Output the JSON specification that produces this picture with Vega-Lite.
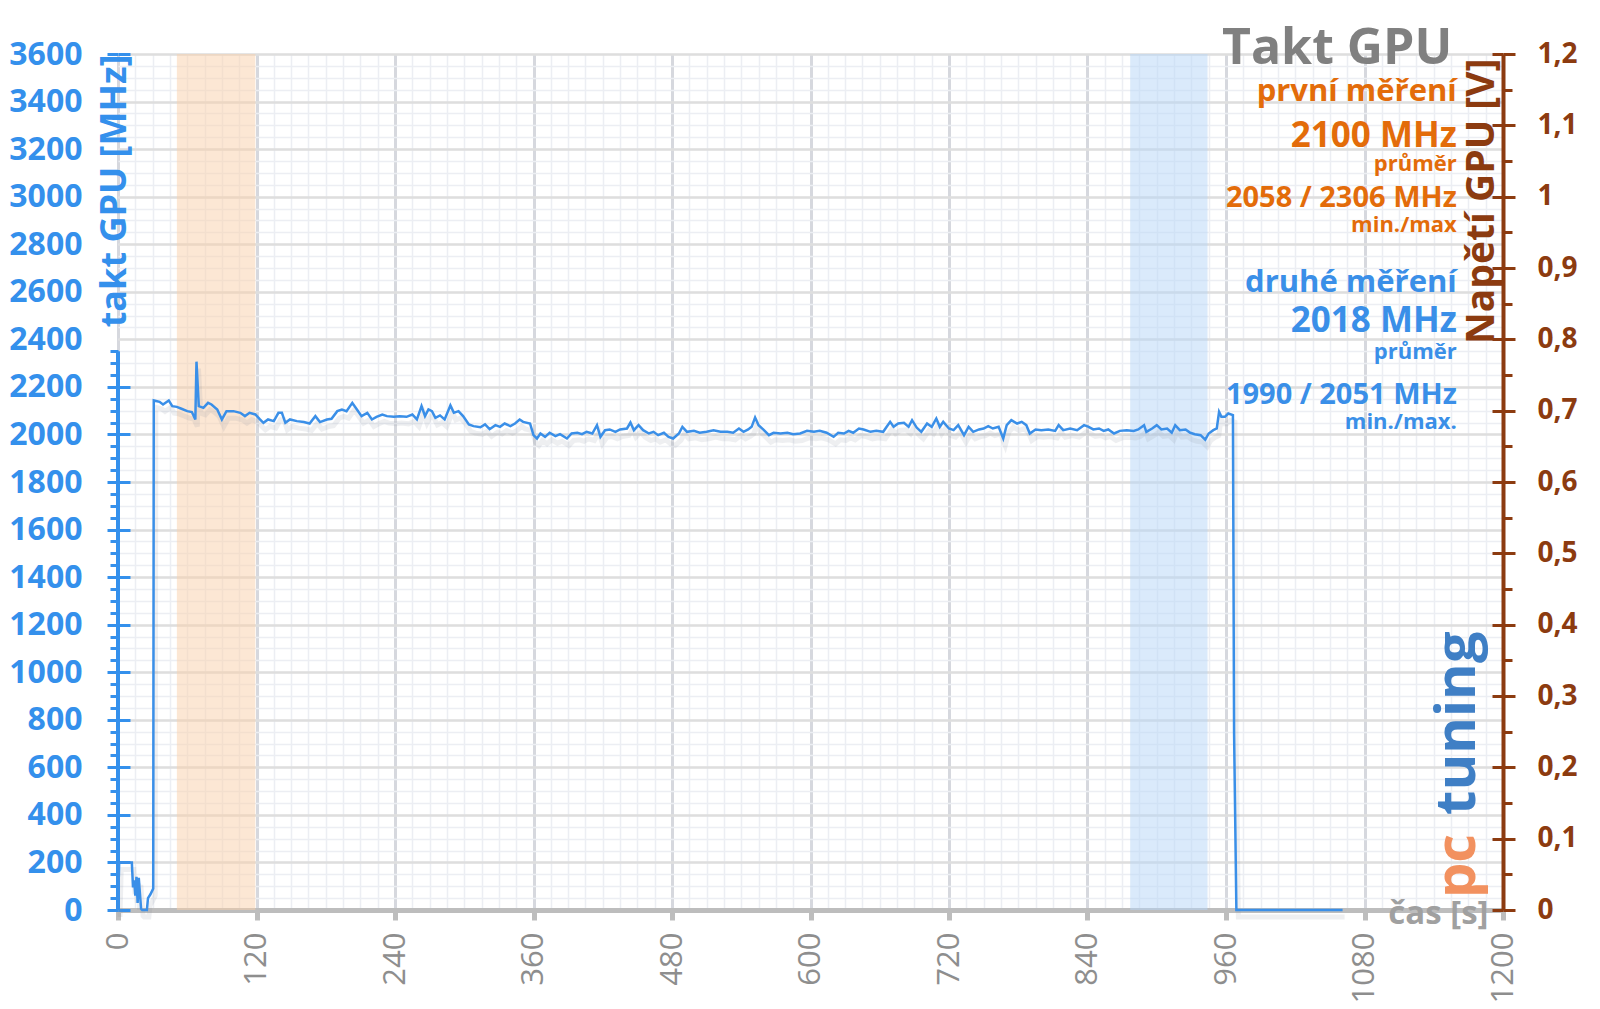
{
  "$schema": "https://vega.github.io/schema/vega-lite/v6.json",
  "width": 1385,
  "height": 856,
  "autosize": {"type": "none"},
  "padding": {"left": 118, "top": 54, "right": 97, "bottom": 99},
  "background": "#ffffff",
  "config": {
    "view": {"stroke": null},
    "font": "Open Sans",
    "axis": {"labelFlush": false, "labelOverlap": false, "labelFont": "Open Sans", "titleFont": "Open Sans"}
  },
  "datasets": {
    "clock": [
      {"t": 0, "mhz": 0}, {"t": 1, "mhz": 200}, {"t": 12, "mhz": 200}, {"t": 13, "mhz": 95}, {"t": 14, "mhz": 125},
      {"t": 15, "mhz": 60}, {"t": 16, "mhz": 140}, {"t": 17, "mhz": 30}, {"t": 18, "mhz": 135}, {"t": 19, "mhz": 70},
      {"t": 20, "mhz": 5}, {"t": 21, "mhz": 0}, {"t": 25, "mhz": 0}, {"t": 26, "mhz": 50}, {"t": 28, "mhz": 65},
      {"t": 30.5, "mhz": 90}, {"t": 31, "mhz": 2143}, {"t": 36, "mhz": 2137}, {"t": 39, "mhz": 2126}, {"t": 44, "mhz": 2143},
      {"t": 47, "mhz": 2119}, {"t": 51, "mhz": 2116}, {"t": 55, "mhz": 2108}, {"t": 60, "mhz": 2098}, {"t": 64, "mhz": 2094},
      {"t": 67, "mhz": 2063}, {"t": 68, "mhz": 2306}, {"t": 70, "mhz": 2119}, {"t": 74, "mhz": 2112}, {"t": 78, "mhz": 2133},
      {"t": 81, "mhz": 2126}, {"t": 86, "mhz": 2105}, {"t": 90, "mhz": 2063}, {"t": 94, "mhz": 2098}, {"t": 100, "mhz": 2098},
      {"t": 106, "mhz": 2091}, {"t": 110, "mhz": 2077}, {"t": 114, "mhz": 2091}, {"t": 119, "mhz": 2084}, {"t": 123, "mhz": 2063},
      {"t": 126, "mhz": 2049}, {"t": 130, "mhz": 2063}, {"t": 135, "mhz": 2056}, {"t": 139, "mhz": 2091}, {"t": 142, "mhz": 2091},
      {"t": 145, "mhz": 2049}, {"t": 149, "mhz": 2063}, {"t": 155, "mhz": 2056}, {"t": 161, "mhz": 2052}, {"t": 166, "mhz": 2046},
      {"t": 171, "mhz": 2077}, {"t": 175, "mhz": 2052}, {"t": 181, "mhz": 2063}, {"t": 185, "mhz": 2066}, {"t": 190, "mhz": 2098},
      {"t": 194, "mhz": 2105}, {"t": 198, "mhz": 2098}, {"t": 203, "mhz": 2133}, {"t": 207, "mhz": 2105}, {"t": 211, "mhz": 2077},
      {"t": 216, "mhz": 2091}, {"t": 220, "mhz": 2063}, {"t": 224, "mhz": 2074}, {"t": 229, "mhz": 2084}, {"t": 233, "mhz": 2077},
      {"t": 239, "mhz": 2074}, {"t": 244, "mhz": 2077}, {"t": 250, "mhz": 2074}, {"t": 255, "mhz": 2084}, {"t": 259, "mhz": 2063},
      {"t": 263, "mhz": 2119}, {"t": 266, "mhz": 2077}, {"t": 269, "mhz": 2105}, {"t": 272, "mhz": 2098}, {"t": 275, "mhz": 2070},
      {"t": 279, "mhz": 2080}, {"t": 283, "mhz": 2063}, {"t": 288, "mhz": 2122}, {"t": 291, "mhz": 2091}, {"t": 295, "mhz": 2098},
      {"t": 299, "mhz": 2077}, {"t": 304, "mhz": 2042}, {"t": 308, "mhz": 2035}, {"t": 314, "mhz": 2030}, {"t": 318, "mhz": 2042},
      {"t": 322, "mhz": 2022}, {"t": 327, "mhz": 2039}, {"t": 331, "mhz": 2032}, {"t": 335, "mhz": 2046}, {"t": 340, "mhz": 2035},
      {"t": 344, "mhz": 2046}, {"t": 348, "mhz": 2063}, {"t": 351, "mhz": 2053}, {"t": 357, "mhz": 2046}, {"t": 360, "mhz": 1997},
      {"t": 363, "mhz": 1983}, {"t": 366, "mhz": 2004}, {"t": 370, "mhz": 1990}, {"t": 374, "mhz": 2007}, {"t": 379, "mhz": 1993},
      {"t": 383, "mhz": 2001}, {"t": 389, "mhz": 1983}, {"t": 393, "mhz": 2004}, {"t": 398, "mhz": 2007}, {"t": 402, "mhz": 2001},
      {"t": 406, "mhz": 2011}, {"t": 411, "mhz": 2004}, {"t": 415, "mhz": 2039}, {"t": 418, "mhz": 1990}, {"t": 422, "mhz": 2018},
      {"t": 426, "mhz": 2021}, {"t": 431, "mhz": 2011}, {"t": 435, "mhz": 2021}, {"t": 441, "mhz": 2025}, {"t": 444, "mhz": 2050},
      {"t": 447, "mhz": 2018}, {"t": 451, "mhz": 2039}, {"t": 455, "mhz": 2018}, {"t": 460, "mhz": 2004}, {"t": 464, "mhz": 2011},
      {"t": 468, "mhz": 1997}, {"t": 473, "mhz": 2007}, {"t": 477, "mhz": 1990}, {"t": 481, "mhz": 1983}, {"t": 486, "mhz": 2004},
      {"t": 489, "mhz": 2032}, {"t": 493, "mhz": 2011}, {"t": 499, "mhz": 2015}, {"t": 504, "mhz": 2007}, {"t": 510, "mhz": 2011},
      {"t": 516, "mhz": 2018}, {"t": 522, "mhz": 2011}, {"t": 528, "mhz": 2011}, {"t": 533, "mhz": 2007}, {"t": 538, "mhz": 2025},
      {"t": 542, "mhz": 2011}, {"t": 546, "mhz": 2021}, {"t": 549, "mhz": 2032}, {"t": 552, "mhz": 2071}, {"t": 555, "mhz": 2039},
      {"t": 559, "mhz": 2021}, {"t": 564, "mhz": 1997}, {"t": 568, "mhz": 2007}, {"t": 574, "mhz": 2004}, {"t": 580, "mhz": 2007},
      {"t": 585, "mhz": 2001}, {"t": 591, "mhz": 2004}, {"t": 597, "mhz": 2015}, {"t": 603, "mhz": 2011}, {"t": 608, "mhz": 2015},
      {"t": 614, "mhz": 2007}, {"t": 620, "mhz": 1990}, {"t": 624, "mhz": 2007}, {"t": 629, "mhz": 2004}, {"t": 633, "mhz": 2015},
      {"t": 637, "mhz": 2007}, {"t": 642, "mhz": 2025}, {"t": 646, "mhz": 2021}, {"t": 652, "mhz": 2011}, {"t": 657, "mhz": 2015},
      {"t": 663, "mhz": 2011}, {"t": 666, "mhz": 2032}, {"t": 669, "mhz": 2053}, {"t": 672, "mhz": 2032}, {"t": 676, "mhz": 2046},
      {"t": 681, "mhz": 2049}, {"t": 685, "mhz": 2032}, {"t": 688, "mhz": 2060}, {"t": 692, "mhz": 2029}, {"t": 696, "mhz": 2011},
      {"t": 701, "mhz": 2046}, {"t": 705, "mhz": 2032}, {"t": 709, "mhz": 2067}, {"t": 712, "mhz": 2032}, {"t": 715, "mhz": 2053},
      {"t": 720, "mhz": 2025}, {"t": 724, "mhz": 2018}, {"t": 728, "mhz": 2039}, {"t": 733, "mhz": 1997}, {"t": 737, "mhz": 2032},
      {"t": 741, "mhz": 2011}, {"t": 746, "mhz": 2021}, {"t": 750, "mhz": 2025}, {"t": 754, "mhz": 2035}, {"t": 758, "mhz": 2025},
      {"t": 763, "mhz": 2032}, {"t": 767, "mhz": 1983}, {"t": 770, "mhz": 2039}, {"t": 774, "mhz": 2060}, {"t": 779, "mhz": 2046},
      {"t": 783, "mhz": 2053}, {"t": 787, "mhz": 2039}, {"t": 790, "mhz": 2004}, {"t": 795, "mhz": 2021}, {"t": 800, "mhz": 2018},
      {"t": 806, "mhz": 2021}, {"t": 812, "mhz": 2015}, {"t": 815, "mhz": 2039}, {"t": 819, "mhz": 2018}, {"t": 825, "mhz": 2025},
      {"t": 831, "mhz": 2018}, {"t": 837, "mhz": 2039}, {"t": 841, "mhz": 2032}, {"t": 845, "mhz": 2021}, {"t": 850, "mhz": 2025},
      {"t": 854, "mhz": 2015}, {"t": 858, "mhz": 2021}, {"t": 863, "mhz": 2004}, {"t": 868, "mhz": 2015}, {"t": 874, "mhz": 2018},
      {"t": 880, "mhz": 2015}, {"t": 884, "mhz": 2021}, {"t": 889, "mhz": 2039}, {"t": 891, "mhz": 2011}, {"t": 896, "mhz": 2025},
      {"t": 900, "mhz": 2039}, {"t": 904, "mhz": 2021}, {"t": 909, "mhz": 2025}, {"t": 913, "mhz": 2007}, {"t": 916, "mhz": 2039},
      {"t": 920, "mhz": 2018}, {"t": 925, "mhz": 2021}, {"t": 929, "mhz": 2007}, {"t": 933, "mhz": 2001}, {"t": 938, "mhz": 1997},
      {"t": 942, "mhz": 1978}, {"t": 945, "mhz": 2004}, {"t": 949, "mhz": 2018}, {"t": 952, "mhz": 2025}, {"t": 954, "mhz": 2095},
      {"t": 956, "mhz": 2074}, {"t": 959, "mhz": 2074}, {"t": 962, "mhz": 2088}, {"t": 966, "mhz": 2081}, {"t": 967, "mhz": 744},
      {"t": 969, "mhz": 0}, {"t": 1061, "mhz": 0}
    ],
    "bands": [
      {"run": "první", "start": 51, "end": 119},
      {"run": "druhé", "start": 877, "end": 944}
    ],
    "notes": [
      {"text": "Takt GPU", "t": 1156, "mhz": 3560, "kind": "title", "role": "title"},
      {"text": "první měření", "t": 1160, "mhz": 3404, "kind": "first", "role": "head"},
      {"text": "2100 MHz", "t": 1160, "mhz": 3210, "kind": "first", "role": "avg"},
      {"text": "průměr", "t": 1160, "mhz": 3110, "kind": "first", "role": "sub"},
      {"text": "2058 / 2306 MHz", "t": 1160, "mhz": 2956, "kind": "first", "role": "mm"},
      {"text": "min./max", "t": 1160, "mhz": 2850, "kind": "first", "role": "sub"},
      {"text": "druhé měření", "t": 1160, "mhz": 2600, "kind": "second", "role": "head"},
      {"text": "2018 MHz", "t": 1160, "mhz": 2432, "kind": "second", "role": "avg"},
      {"text": "průměr", "t": 1160, "mhz": 2318, "kind": "second", "role": "sub"},
      {"text": "1990 / 2051 MHz", "t": 1160, "mhz": 2130, "kind": "second", "role": "mm"},
      {"text": "min./max.", "t": 1160, "mhz": 2022, "kind": "second", "role": "sub"}
    ],
    "logo": [
      {"part": "pc", "t": 1176, "mhz": 50},
      {"part": "tuning", "t": 1176, "mhz": 400}
    ]
  },
  "resolve": {"scale": {"y": "independent", "color": "independent"}, "axis": {"x": "independent"}},
  "layer": [
    {
      "data": {"name": "bands"},
      "mark": {"type": "rect", "opacity": 0.5},
      "encoding": {
        "x": {
          "field": "start", "type": "quantitative",
          "scale": {"domain": [0, 1200], "nice": false, "zero": false},
          "axis": {
            "orient": "bottom",
            "values": [0,15,30,45,60,75,90,105,120,135,150,165,180,195,210,225,240,255,270,285,300,315,330,345,360,375,390,405,420,435,450,465,480,495,510,525,540,555,570,585,600,615,630,645,660,675,690,705,720,735,750,765,780,795,810,825,840,855,870,885,900,915,930,945,960,975,990,1005,1020,1035,1050,1065,1080,1095,1110,1125,1140,1155,1170,1185,1200],
            "grid": true, "gridColor": "#eceef3", "gridWidth": 1.5,
            "labels": false, "ticks": false, "domain": false, "title": null
          }
        },
        "x2": {"field": "end"},
        "color": {
          "field": "run", "type": "nominal",
          "scale": {"domain": ["první", "druhé"], "range": ["#F9CFAA", "#B5D5F7"]},
          "legend": null
        }
      }
    },
    {
      "data": {"values": [{}]},
      "mark": {"type": "rule", "opacity": 0},
      "encoding": {
        "y": {
          "datum": 0, "type": "quantitative",
          "scale": {"domain": [0, 3600], "nice": false},
          "axis": {
            "orient": "left",
            "values": [0,50,100,150,200,250,300,350,400,450,500,550,600,650,700,750,800,850,900,950,1000,1050,1100,1150,1200,1250,1300,1350,1400,1450,1500,1550,1600,1650,1700,1750,1800,1850,1900,1950,2000,2050,2100,2150,2200,2250,2300,2350,2400,2450,2500,2550,2600,2650,2700,2750,2800,2850,2900,2950,3000,3050,3100,3150,3200,3250,3300,3350,3400,3450,3500,3550,3600],
            "grid": true, "gridColor": "#eceef3", "gridWidth": 1.5,
            "labels": false, "ticks": true, "tickColor": "#3490EC", "tickSize": 8, "tickWidth": 3,
            "tickOpacity": {"condition": {"test": "datum.value > 2350", "value": 0}, "value": 1},
            "domain": false, "title": null
          }
        }
      }
    },
    {
      "data": {"values": [{}]},
      "mark": {"type": "rule", "opacity": 0},
      "encoding": {
        "y": {
          "datum": 0, "type": "quantitative",
          "scale": {"domain": [0, 3600], "nice": false},
          "axis": {
            "orient": "left",
            "values": [0,200,400,600,800,1000,1200,1400,1600,1800,2000,2200,3600],
            "grid": false, "labels": false, "ticks": true, "tickColor": "#3490EC", "tickSize": -12, "tickWidth": 3,
            "domain": false, "title": null
          }
        }
      }
    },
    {
      "data": {"name": "clock"},
      "mark": {"type": "line", "stroke": "#8a9099", "strokeOpacity": 0.14, "strokeWidth": 5, "yOffset": 7, "xOffset": 2},
      "encoding": {
        "x": {"field": "t", "type": "quantitative", "axis": null},
        "y": {"field": "mhz", "type": "quantitative", "scale": {"domain": [0, 3600], "nice": false}, "axis": null}
      }
    },
    {
      "data": {"values": [{}]},
      "mark": {"type": "rule", "stroke": "#3490EC", "strokeWidth": 4},
      "encoding": {
        "x": {"datum": 0, "type": "quantitative", "axis": null},
        "y": {"datum": 0, "type": "quantitative", "scale": {"domain": [0, 3600], "nice": false}, "axis": null},
        "y2": {"datum": 2350}
      }
    },
    {
      "data": {"name": "clock"},
      "mark": {"type": "line", "stroke": "#3A8FE8", "strokeWidth": 2.5},
      "encoding": {
        "x": {
          "field": "t", "type": "quantitative",
          "axis": {
            "orient": "bottom",
            "values": [0,120,240,360,480,600,720,840,960,1080,1200],
            "format": "d",
            "grid": true, "gridColor": "#d6d8de", "gridWidth": 3,
            "domain": true, "domainColor": "#bdbdbd", "domainWidth": 5,
            "ticks": true, "tickColor": "#bdbdbd", "tickWidth": 5, "tickSize": 10,
            "labelAngle": 270, "labelColor": "#8e8e8e", "labelFontSize": 31, "labelPadding": 12,
            "title": "čas [s]", "titleColor": "#a0a0a0", "titleFontSize": 33, "titleFontWeight": "bold",
            "titleX": 1370, "titleY": 13, "titleAlign": "right", "titleBaseline": "alphabetic", "titleAngle": 0
          }
        },
        "y": {
          "field": "mhz", "type": "quantitative",
          "scale": {"domain": [0, 3600], "nice": false},
          "axis": {
            "orient": "left",
            "values": [0,200,400,600,800,1000,1200,1400,1600,1800,2000,2200,2400,2600,2800,3000,3200,3400,3600],
            "format": "d",
            "grid": true, "gridColor": "#dedede", "gridWidth": 2.5,
            "domain": false,
            "ticks": true, "tickColor": "#3490EC", "tickWidth": 3, "tickSize": 11,
            "tickOpacity": {"condition": {"test": "datum.value > 2350 && datum.value < 3600", "value": 0}, "value": 1},
            "labelColor": "#3490EC", "labelFontSize": 32, "labelFontWeight": "bold", "labelPadding": 25,
            "title": "takt GPU [MHz]", "titleColor": "#3490EC", "titleFontSize": 36, "titleFontWeight": "bold",
            "titleAngle": 270, "titleAlign": "right", "titleBaseline": "middle", "titleX": -4, "titleY": 0
          }
        }
      }
    },
    {
      "data": {"values": [{}]},
      "mark": {"type": "rule", "opacity": 0},
      "encoding": {
        "y": {
          "datum": 0, "type": "quantitative",
          "scale": {"domain": [0, 1.2], "nice": false},
          "axis": {
            "orient": "right",
            "values": [0.05,0.15,0.25,0.35,0.45,0.55,0.65,0.75,0.85,0.95,1.05,1.15],
            "grid": false, "labels": false, "ticks": true, "tickColor": "#8C3B10", "tickSize": 9, "tickWidth": 3,
            "domain": false, "title": null
          }
        }
      }
    },
    {
      "data": {"values": [{}]},
      "mark": {"type": "rule", "opacity": 0},
      "encoding": {
        "y": {
          "datum": 0, "type": "quantitative",
          "scale": {"domain": [0, 1.2], "nice": false},
          "axis": {
            "orient": "right",
            "values": [0,0.1,0.2,0.3,0.4,0.5,0.6,0.7,0.8,0.9,1,1.1,1.2],
            "grid": false, "labels": false, "ticks": true, "tickColor": "#8C3B10", "tickSize": -11, "tickWidth": 3,
            "domain": false, "title": null
          }
        }
      }
    },
    {
      "data": {"values": [{}]},
      "mark": {"type": "rule", "opacity": 0},
      "encoding": {
        "y": {
          "datum": 0, "type": "quantitative",
          "scale": {"domain": [0, 1.2], "nice": false},
          "axis": {
            "orient": "right",
            "values": [0,0.1,0.2,0.3,0.4,0.5,0.6,0.7,0.8,0.9,1,1.1,1.2],
            "labelExpr": "replace(format(datum.value, '.1~f'), '.', ',')",
            "grid": false,
            "domain": true, "domainColor": "#8C3B10", "domainWidth": 4,
            "ticks": true, "tickColor": "#8C3B10", "tickWidth": 3, "tickSize": 12,
            "labelColor": "#8C3B10", "labelFontSize": 28, "labelFontWeight": "bold", "labelPadding": 22,
            "title": "Napětí GPU [V]", "titleColor": "#8C3B10", "titleFontSize": 39, "titleFontWeight": "bold",
            "titleAngle": 270, "titleAlign": "right", "titleBaseline": "middle", "titleX": -22, "titleY": 4
          }
        }
      }
    },
    {
      "data": {"name": "logo"},
      "mark": {"type": "text", "angle": 270, "align": "left", "baseline": "alphabetic", "fontSize": 56, "fontWeight": "bold", "font": "Open Sans"},
      "encoding": {
        "x": {"field": "t", "type": "quantitative", "axis": null},
        "y": {"field": "mhz", "type": "quantitative", "scale": {"domain": [0, 3600], "nice": false}, "axis": null},
        "text": {"field": "part"},
        "color": {"field": "part", "type": "nominal", "scale": {"domain": ["pc", "tuning"], "range": ["#F2915F", "#3F7FC5"]}, "legend": null}
      }
    },
    {
      "data": {"name": "notes"},
      "transform": [{"filter": "datum.role === 'title'"}],
      "mark": {"type": "text", "align": "right", "baseline": "alphabetic", "fontSize": 50, "fontWeight": "bold", "font": "Open Sans"},
      "encoding": {
        "x": {"field": "t", "type": "quantitative", "axis": null},
        "y": {"field": "mhz", "type": "quantitative", "scale": {"domain": [0, 3600], "nice": false}, "axis": null},
        "text": {"field": "text"},
        "color": {"field": "kind", "type": "nominal", "scale": {"domain": ["title", "first", "second"], "range": ["#808080", "#E36C0A", "#3A8FE8"]}, "legend": null}
      }
    },
    {
      "data": {"name": "notes"},
      "transform": [{"filter": "datum.role === 'head'"}],
      "mark": {"type": "text", "align": "right", "baseline": "alphabetic", "fontSize": 31, "fontWeight": "bold", "font": "Open Sans"},
      "encoding": {
        "x": {"field": "t", "type": "quantitative", "axis": null},
        "y": {"field": "mhz", "type": "quantitative", "scale": {"domain": [0, 3600], "nice": false}, "axis": null},
        "text": {"field": "text"},
        "color": {"field": "kind", "type": "nominal", "scale": {"domain": ["title", "first", "second"], "range": ["#808080", "#E36C0A", "#3A8FE8"]}, "legend": null}
      }
    },
    {
      "data": {"name": "notes"},
      "transform": [{"filter": "datum.role === 'avg'"}],
      "mark": {"type": "text", "align": "right", "baseline": "alphabetic", "fontSize": 35, "fontWeight": "bold", "font": "Open Sans"},
      "encoding": {
        "x": {"field": "t", "type": "quantitative", "axis": null},
        "y": {"field": "mhz", "type": "quantitative", "scale": {"domain": [0, 3600], "nice": false}, "axis": null},
        "text": {"field": "text"},
        "color": {"field": "kind", "type": "nominal", "scale": {"domain": ["title", "first", "second"], "range": ["#808080", "#E36C0A", "#3A8FE8"]}, "legend": null}
      }
    },
    {
      "data": {"name": "notes"},
      "transform": [{"filter": "datum.role === 'mm'"}],
      "mark": {"type": "text", "align": "right", "baseline": "alphabetic", "fontSize": 29, "fontWeight": "bold", "font": "Open Sans"},
      "encoding": {
        "x": {"field": "t", "type": "quantitative", "axis": null},
        "y": {"field": "mhz", "type": "quantitative", "scale": {"domain": [0, 3600], "nice": false}, "axis": null},
        "text": {"field": "text"},
        "color": {"field": "kind", "type": "nominal", "scale": {"domain": ["title", "first", "second"], "range": ["#808080", "#E36C0A", "#3A8FE8"]}, "legend": null}
      }
    },
    {
      "data": {"name": "notes"},
      "transform": [{"filter": "datum.role === 'sub'"}],
      "mark": {"type": "text", "align": "right", "baseline": "alphabetic", "fontSize": 22, "fontWeight": "bold", "font": "Open Sans"},
      "encoding": {
        "x": {"field": "t", "type": "quantitative", "axis": null},
        "y": {"field": "mhz", "type": "quantitative", "scale": {"domain": [0, 3600], "nice": false}, "axis": null},
        "text": {"field": "text"},
        "color": {"field": "kind", "type": "nominal", "scale": {"domain": ["title", "first", "second"], "range": ["#808080", "#E36C0A", "#3A8FE8"]}, "legend": null}
      }
    }
  ]
}
